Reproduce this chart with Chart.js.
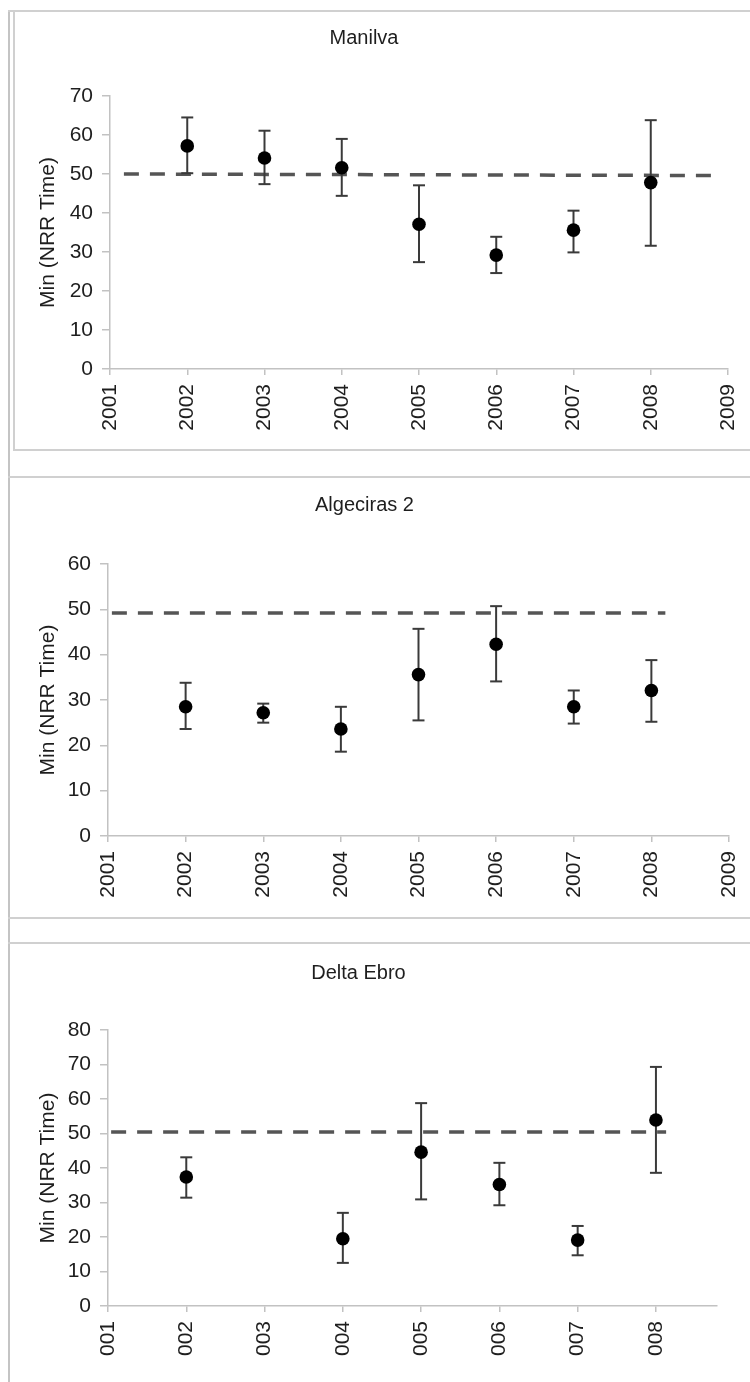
<!DOCTYPE html>
<html>
<head>
<meta charset="utf-8">
<script src="https://cdn.jsdelivr.net/npm/chart.js@4.4.1/dist/chart.umd.min.js"></script>
<style>
body{margin:0;background:#fff;width:750px;height:1382px;position:relative;overflow:hidden}
.ln{position:absolute;background:#d0d0d0}
.panel{position:absolute;left:0;width:750px;overflow:hidden}
canvas{display:block}
</style>
</head>
<body>
<!-- frame lines round the three panels -->
<div class="ln" style="left:8px;top:10px;width:2px;height:1372px;background:#c4c4c4"></div>
<div class="ln" style="left:8px;top:10px;width:742px;height:2px"></div>
<div class="ln" style="left:13px;top:10px;width:2px;height:441px"></div>
<div class="ln" style="left:13px;top:449px;width:737px;height:2px"></div>
<div class="ln" style="left:8px;top:476px;width:742px;height:2px"></div>
<div class="ln" style="left:8px;top:917px;width:742px;height:2px"></div>
<div class="ln" style="left:8px;top:942px;width:742px;height:2px"></div>

<div class="panel" style="top:0;height:452px"><canvas id="c1" width="750" height="452"></canvas></div>
<div class="panel" style="top:460px;height:458px"><canvas id="c2" width="750" height="458"></canvas></div>
<!-- the source figure is cut off just below the last panel's year labels -->
<div class="panel" style="top:920px;height:437px"><canvas id="c3" width="750" height="462"></canvas></div>

<script>
// Manilva
const manilvaYears = [2002, 2003, 2004, 2005, 2006, 2007, 2008];
const manilvaMean  = [57.2, 54.1, 51.6, 37.1, 29.2, 35.6, 47.8];
const manilvaHigh  = [64.5, 61.1, 59.0, 47.1, 33.9, 40.6, 63.8];
const manilvaLow   = [50.2, 47.4, 44.4, 27.4, 24.6, 29.9, 31.6];
const manilvaRefX  = [2001.18, 2008.83];
const manilvaRefY  = [50, 49.6];

// Algeciras 2
const algecirasYears = [2002, 2003, 2004, 2005, 2006, 2007, 2008];
const algecirasMean  = [28.5, 27.2, 23.6, 35.6, 42.3, 28.5, 32.1];
const algecirasHigh  = [33.8, 29.2, 28.5, 45.7, 50.7, 32.1, 38.8];
const algecirasLow   = [23.6, 25.0, 18.6, 25.5, 34.1, 24.8, 25.2];
const algecirasRefX  = [2001.05, 2008.18];
const algecirasRefY  = [49.2, 49.2];

// Delta Ebro
const ebroYears = [2002, 2004, 2005, 2006, 2007, 2008];
const ebroMean  = [37.4, 19.5, 44.6, 35.2, 19.1, 53.9];
const ebroHigh  = [43.1, 27.0, 58.8, 41.5, 23.2, 69.3];
const ebroLow   = [31.4, 12.5, 30.9, 29.2, 14.7, 38.6];
const ebroRefX  = [2001.04, 2008.13];
const ebroRefY  = [50.4, 50.4];

const yTitle = 'Min (NRR Time)';
const xMin = 2001;

const FONT = '"Liberation Sans", Arial, sans-serif';
const TXT = '#1e1e1e';
const AXIS = '#c2c2c2';

function makeChart(id, p) {
    const canvas = document.getElementById(id);
    const W = canvas.width, H = canvas.height;
    const titleSize = 20, titleLH = titleSize * 1.2;
    const ytSize = 21, ytLH = ytSize * 1.2;

    const datasets = [];
    // dots
    datasets.push({
        type: 'scatter',
        data: p.years.map((y, i) => ({x: y, y: p.mean[i]})),
        pointRadius: 6.8,
        pointBackgroundColor: '#000',
        pointBorderColor: '#000',
        pointBorderWidth: 0,
        order: 0
    });
    // error bars, caps are 'line' point styles at both ends
    p.years.forEach((y, i) => {
        datasets.push({
            type: 'scatter',
            showLine: true,
            data: [{x: y, y: p.low[i]}, {x: y, y: p.high[i]}],
            borderColor: '#3a3a3a',
            borderWidth: 2,
            pointStyle: 'line',
            pointRadius: 6,
            pointBorderColor: '#3a3a3a',
            pointBorderWidth: 2,
            order: 1
        });
    });
    // reference line
    datasets.push({
        type: 'scatter',
        showLine: true,
        data: p.refX.map((x, i) => ({x: x, y: p.refY[i]})),
        borderColor: '#555',
        borderWidth: 3.5,
        borderDash: [15, 11],
        pointRadius: 0,
        order: 2
    });

    return new Chart(canvas, {
        type: 'scatter',
        data: {datasets: datasets},
        options: {
            responsive: false,
            animation: false,
            events: [],
            layout: {padding: {left: 0, right: W - p.area.right, top: 0, bottom: 0}},
            plugins: {
                legend: {display: false},
                tooltip: {enabled: false},
                title: {
                    display: true,
                    text: p.title,
                    color: TXT,
                    font: {family: FONT, size: titleSize, weight: 'normal'},
                    padding: {
                        top: p.titleY - titleLH / 2,
                        bottom: p.area.top - (p.titleY + titleLH / 2)
                    }
                }
            },
            scales: {
                x: {
                    type: 'linear',
                    min: xMin,
                    max: p.xMax,
                    afterFit: (s) => {
                        s.height = H - p.area.bottom;
                        // rotated end labels would otherwise push the plot inwards
                        s.paddingLeft = 0;
                        s.paddingRight = 0;
                    },
                    grid: {drawOnChartArea: false, drawTicks: true, tickLength: 6, color: AXIS, lineWidth: 1.5},
                    border: {display: true, color: AXIS, width: 1.5},
                    ticks: {
                        stepSize: 1,
                        includeBounds: false,
                        autoSkip: false,
                        minRotation: 90,
                        maxRotation: 90,
                        padding: 9,
                        color: TXT,
                        font: {family: FONT, size: 21},
                        callback: (v) => String(v)
                    }
                },
                y: {
                    type: 'linear',
                    min: 0,
                    max: p.yMax,
                    afterFit: (s) => { s.width = p.area.left; },
                    grid: {drawOnChartArea: false, drawTicks: true, tickLength: 8, color: AXIS, lineWidth: 1.5},
                    border: {display: true, color: AXIS, width: 1.5},
                    ticks: {
                        stepSize: 10,
                        padding: 9,
                        color: TXT,
                        font: {family: FONT, size: 21}
                    },
                    title: {
                        display: true,
                        text: yTitle,
                        color: TXT,
                        font: {family: FONT, size: ytSize},
                        padding: {top: p.yTitleX - ytLH / 2, bottom: 0}
                    }
                }
            }
        }
    });
}

makeChart('c1', {
    title: 'Manilva', titleY: 38, yTitleX: 48,
    years: manilvaYears, mean: manilvaMean, high: manilvaHigh, low: manilvaLow,
    refX: manilvaRefX, refY: manilvaRefY,
    yMax: 70, xMax: 2009,
    area: {left: 110, right: 728, top: 96, bottom: 369}
});

makeChart('c2', {
    title: 'Algeciras 2', titleY: 45, yTitleX: 48,
    years: algecirasYears, mean: algecirasMean, high: algecirasHigh, low: algecirasLow,
    refX: algecirasRefX, refY: algecirasRefY,
    yMax: 60, xMax: 2009,
    area: {left: 108, right: 729, top: 104, bottom: 376}
});

makeChart('c3', {
    title: 'Delta Ebro', titleY: 53, yTitleX: 48,
    years: ebroYears, mean: ebroMean, high: ebroHigh, low: ebroLow,
    refX: ebroRefX, refY: ebroRefY,
    yMax: 80, xMax: 2008.78,
    area: {left: 108, right: 717, top: 110, bottom: 386}
});
</script>
</body>
</html>
